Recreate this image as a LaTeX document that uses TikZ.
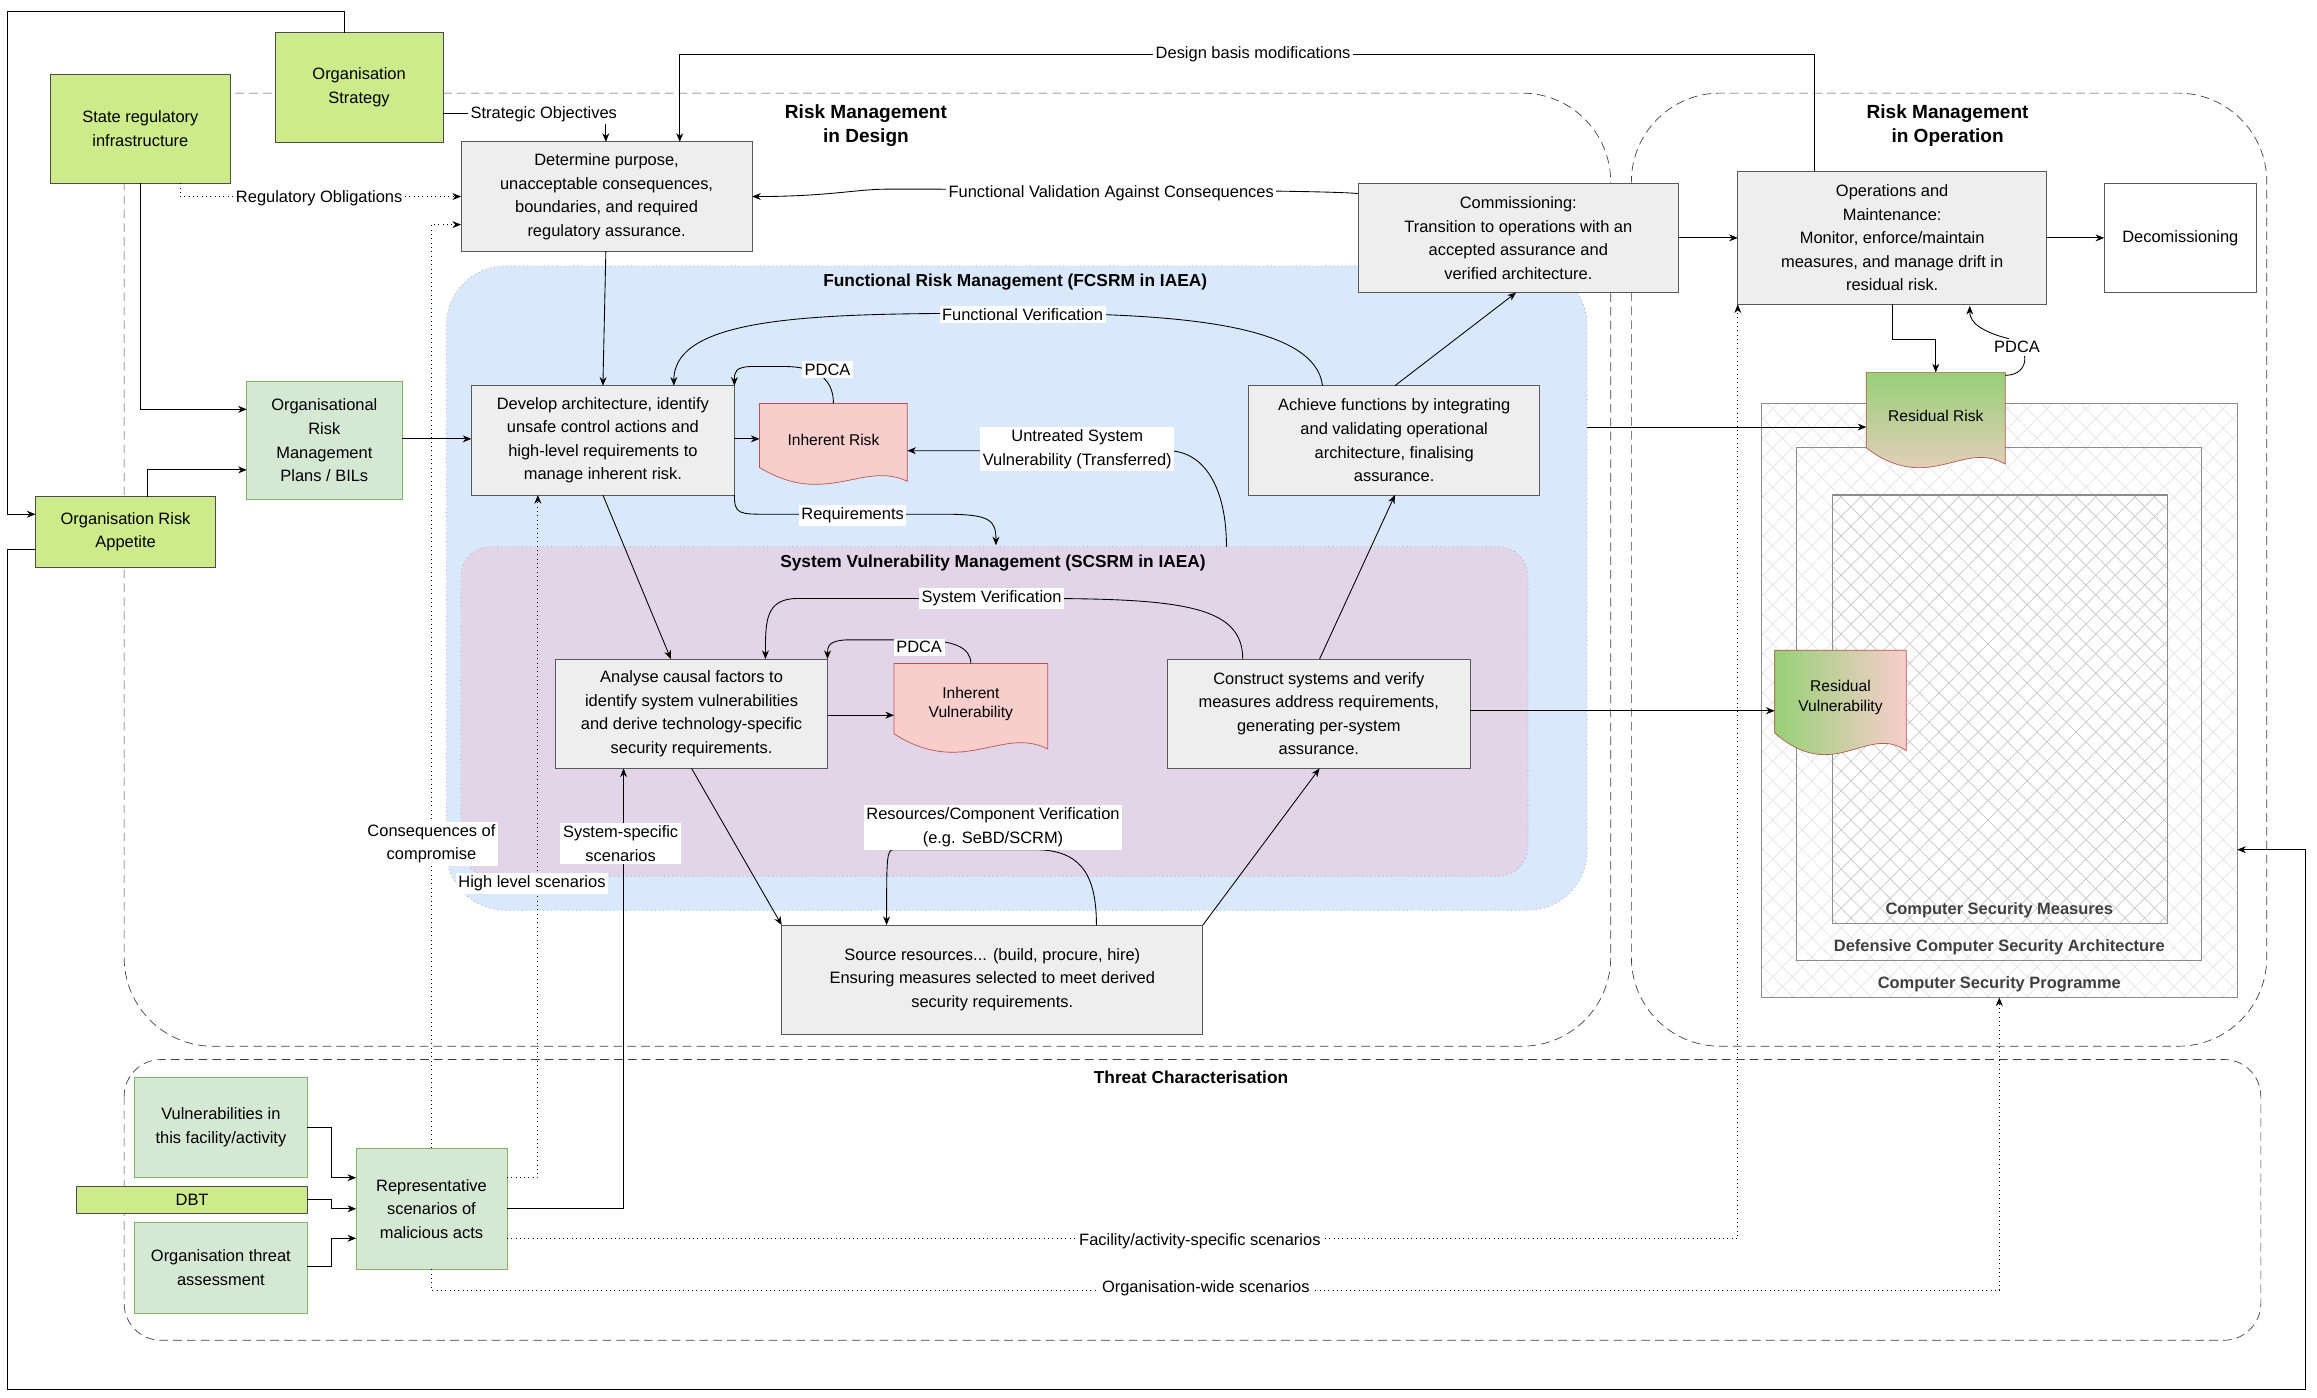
\documentclass[tikz,border=0pt]{standalone}
\usepackage{fontspec}
\setmainfont{Liberation Sans}
\usetikzlibrary{arrows.meta,patterns.meta}
\definecolor{lgreen}{HTML}{CDEB8B}
\definecolor{pgreen}{HTML}{D5E8D4}
\definecolor{pgreenb}{HTML}{82B366}
\definecolor{pblue}{HTML}{DAE8FC}
\definecolor{ppurp}{HTML}{E1D5E7}
\definecolor{pgray}{HTML}{EEEEEE}
\definecolor{ppink}{HTML}{F8CECC}
\definecolor{ppinkb}{HTML}{B85450}
\definecolor{dgreen}{HTML}{97D077}
\newcommand\bx[7]{\node[#6,minimum width={(#4-#2)*0.03cm},minimum height={(#5-#3)*0.03cm}] (#1) at ({(#2+#4)/2},{(#3+#5)/2}) {#7};}
\newcommand\docsh[7]{\path[#6] (#2,#3) -- (#4,#3) -- (#4,{#5-0.15*(#5-#3)}) .. controls ({#4-0.3*(#4-#2)},{#5-0.38*(#5-#3)}) and ({#2+0.45*(#4-#2)},{#5+0.14*(#5-#3)}) .. (#2,{#5-0.3*(#5-#3)}) -- cycle;
\node[align=center,font=\small] (#1) at ({(#2+#4)/2},{#3+0.4*(#5-#3)}) {#7};}
\begin{document}
\begin{tikzpicture}[x=0.03cm,y=-0.03cm,
 every node/.style={font=\fontsize{9.5}{13.6}\selectfont,inner sep=0pt,outer sep=0pt,align=center},
 box/.style={draw=black!65,fill=pgray,line width=0.5pt},
 gbox/.style={draw=black!70,fill=lgreen},
 pbox/.style={draw=pgreenb,fill=pgreen},
 arr/.style={-{Stealth[length=5pt,width=4pt]},line width=0.5pt},
 dot/.style={arr,dotted},
 lbl/.style={fill=white,inner sep=1.5pt},
 cont/.style={draw=black!75,dashed,dash pattern=on 5pt off 3pt},
 ttl/.style={font=\fontsize{11}{13.5}\selectfont\bfseries},
 btl/.style={font=\fontsize{9.5}{12}\selectfont\bfseries,text=black!75}]
\useasboundingbox (0,0) rectangle (1568,946);
\fill[white] (0,0) rectangle (1568,946);
% containers
\draw[cont,rounded corners=1.8cm] (84,63) rectangle (1090,708);
\draw[cont,rounded corners=1.8cm] (1104,63) rectangle (1534,708);
\draw[cont,rounded corners=0.75cm] (84,717) rectangle (1530,907);
\node[ttl] (tdes) at (586,85) {Risk Management\\in Design};
\node[ttl] (tops) at (1318,85) {Risk Management\\in Operation};
\node[ttl,font=\fontsize{10}{12}\selectfont\bfseries] (tthr) at (806,729) {Threat Characterisation};
\draw[fill=pblue,draw=black!40,dotted,rounded corners=1.2cm] (302,180) rectangle (1074,616);
\node[ttl,font=\fontsize{10}{12}\selectfont\bfseries] (tf) at (687,191) {Functional Risk Management (FCSRM in IAEA)};
\draw[fill=ppurp,draw=black!40,dotted,rounded corners=0.6cm] (312,370) rectangle (1034,593);
\node[ttl,font=\fontsize{10}{12}\selectfont\bfseries] (ts) at (672,381) {System Vulnerability Management (SCSRM in IAEA)};
% security programme
\fill[white] (1192,273) rectangle (1514,675);
\fill[pattern={Lines[angle=45,distance=8pt,line width=0.4pt]},pattern color=black!10] (1192,273) rectangle (1514,675);
\fill[pattern={Lines[angle=-45,distance=8pt,line width=0.4pt]},pattern color=black!10] (1192,273) rectangle (1514,675);
\draw[black!45,line width=0.7pt] (1192,273) rectangle (1514,675);
\draw[black!45,line width=0.7pt] (1216,303) rectangle (1490,650);
\fill[white] (1240,335) rectangle (1467,625);
\fill[pattern={Lines[angle=45,distance=8pt,line width=0.4pt]},pattern color=black!22] (1240,335) rectangle (1467,625);
\fill[pattern={Lines[angle=-45,distance=8pt,line width=0.4pt]},pattern color=black!22] (1240,335) rectangle (1467,625);
\draw[black!45,line width=0.7pt] (1240,335) rectangle (1467,625);
\node[btl] (csp) at (1353,666) {Computer Security Programme};
\node[btl] (dcsa) at (1353,641) {Defensive Computer Security Architecture};
\node[btl] (csm) at (1353,616) {Computer Security Measures};
\coordinate (cspr) at (1514,575);
\coordinate (cspb) at (1353,675);
% boxes
\bx{sri}{34}{50}{156}{124}{gbox}{State regulatory\\infrastructure}
\bx{ost}{186}{22}{300}{96}{gbox}{Organisation\\Strategy}
\bx{ora}{24}{336}{146}{384}{gbox}{Organisation Risk\\Appetite}
\bx{orm}{167}{258}{272}{338}{pbox}{Organisational\\Risk\\Management\\Plans / BILs}
\bx{det}{312}{96}{509}{170}{box}{Determine purpose,\\unacceptable consequences,\\boundaries, and required\\regulatory assurance.}
\bx{dev}{319}{261}{497}{335}{box}{Develop architecture, identify\\unsafe control actions and\\high-level requirements to\\manage inherent risk.}
\bx{ach}{845}{261}{1042}{335}{box}{Achieve functions by integrating\\and validating operational\\architecture, finalising\\assurance.}
\bx{com}{919}{124}{1136}{198}{box}{Commissioning:\\Transition to operations with an\\accepted assurance and\\verified architecture.}
\bx{ops}{1176}{116}{1385}{206}{box}{Operations and\\Maintenance:\\Monitor, enforce/maintain\\measures, and manage drift in\\residual risk.}
\bx{dec}{1424}{124}{1527}{198}{draw=black!65,fill=white}{Decomissioning}
\bx{ana}{376}{446}{560}{520}{box}{Analyse causal factors to\\identify system vulnerabilities\\and derive technology-specific\\security requirements.}
\bx{con}{790}{446}{995}{520}{box}{Construct systems and verify\\measures address requirements,\\generating per-system\\assurance.}
\bx{src}{529}{626}{814}{700}{box}{Source resources... (build, procure, hire)\\Ensuring measures selected to meet derived\\security requirements.}
\bx{vul}{91}{729}{208}{797}{pbox}{Vulnerabilities in\\this facility/activity}
\bx{dbt}{52}{803}{208}{821}{gbox}{DBT}
\bx{ota}{91}{827}{208}{889}{pbox}{Organisation threat\\assessment}
\bx{rep}{241}{777}{343}{859}{pbox}{Representative\\scenarios of\\malicious acts}
% document shapes
\docsh{ir}{514}{273}{614}{335}{fill=ppink,draw=ppinkb}{Inherent Risk}
\docsh{iv}{605}{449}{709}{517}{fill=ppink,draw=ppinkb}{Inherent\\Vulnerability}
\docsh{rr}{1263}{252}{1357}{325}{top color=dgreen,bottom color=ppink,draw=ppinkb}{Residual Risk}
\docsh{rv}{1201}{440}{1290}{520}{left color=dgreen,right color=ppink,draw=ppinkb}{Residual\\Vulnerability}
% outer loops
\draw[arr] (233,22) -- (233,8) -- (5,8) -- (5,348) -- (24,348);
\draw[arr] (24,372) -- (5,372) -- (5,940) -- (1560,940) -- (1560,575) -- (cspr);
% connectors
\draw[arr] (300,77) -- (410,77) -- (410,96);
\draw[dot] (122,124) -- (122,133) -- (312,133);
\draw[arr] (95,124) -- (95,277) -- (167,277);
\draw[arr] (100,336) -- (100,318) -- (167,318);
\draw[arr] (272,297) -- (319,297);
\draw[dot] (292,777) -- (292,152) -- (312,152);
\draw[dot] (343,797) -- (364,797) -- (364,335);
\draw[arr] (343,818) -- (422,818) -- (422,520);
\draw[dot] (343,838) -- (1176,838) -- (1176,206);
\draw[dot] (292,859) -- (292,873) -- (1353,873) -- (cspb);
\draw[arr] (208,763) -- (224,763) -- (224,797) -- (241,797);
\draw[arr] (208,812) -- (224,812) -- (224,818) -- (241,818);
\draw[arr] (208,857) -- (224,857) -- (224,838) -- (241,838);
\draw[arr] (1228,116) -- (1228,37) -- (460,37) -- (460,96);
\draw[arr] (919,131) .. controls (890,128) and (620,128) .. (600,128) .. controls (580,128) and (560,133) .. (509,133);
\draw[arr] (410,170) -- (408,261);
\draw[arr] (497,297) -- (514,297);
\draw[arr] (564,273) .. controls (564,258) and (555,248) .. (530,248) -- (510,248) .. controls (497,248) and (497,252) .. (497,261);
\draw[arr] (895,261) .. controls (890,220) and (800,212) .. (690,212) .. controls (560,212) and (456,212) .. (456,261);
\draw[arr] (830,370) .. controls (830,330) and (815,305) .. (790,305) -- (614,305);
\draw[arr] (497,335) .. controls (497,348) and (500,348) .. (520,348) -- (640,348) .. controls (670,348) and (674,352) .. (674,369);
\draw[arr] (408,335) -- (454,446);
\draw[arr] (560,484) -- (605,484);
\draw[arr] (657,449) .. controls (657,438) and (645,433) .. (620,433) -- (575,433) .. controls (560,433) and (560,438) .. (560,446);
\draw[arr] (841,446) .. controls (841,410) and (800,405) .. (700,405) -- (540,405) .. controls (518,405) and (518,420) .. (518,446);
\draw[arr] (468,520) -- (529,626);
\draw[arr] (814,626) -- (893,520);
\draw[arr] (742,626) .. controls (742,590) and (730,575) .. (700,575) -- (605,575) .. controls (600,575) and (600,580) .. (600,626);
\draw[arr] (893,446) -- (944,335);
\draw[arr] (944,261) -- (1026,198);
\draw[arr] (1136,161) -- (1176,161);
\draw[arr] (1385,161) -- (1424,161);
\draw[arr] (1281,206) -- (1281,230) -- (1310,230) -- (1310,252);
\draw[arr] (1357,254) .. controls (1375,254) and (1375,232) .. (1355,228) .. controls (1335,222) and (1333,215) .. (1333,207);
\draw[arr] (1074,289) -- (1263,289);
\draw[arr] (995,481) -- (1201,481);
% labels
\node[lbl] (l1) at (368,77) {Strategic Objectives};
\node[lbl] (l2) at (216,134) {Regulatory Obligations};
\node[lbl] (l3) at (292,571) {Consequences of\\compromise};
\node[lbl] (l4) at (360,598) {High level scenarios};
\node[lbl] (l5) at (420,571) {System-specific\\scenarios};
\node[lbl] (l6) at (812,840) {Facility/activity-specific scenarios};
\node[lbl] (l7) at (816,872) {Organisation-wide scenarios};
\node[lbl] (l8) at (848,37) {Design basis modifications};
\node[lbl] (l9) at (752,131) {Functional Validation Against Consequences};
\node[lbl] (l10) at (560,250) {PDCA};
\node[lbl] (l11) at (692,213) {Functional Verification};
\node[lbl] (l12) at (729,304) {Untreated System\\Vulnerability (Transferred)};
\node[lbl] (l13) at (577,349) {Requirements};
\node[lbl] (l14) at (622,438) {PDCA};
\node[lbl] (l15) at (671,405) {System Verification};
\node[lbl] (l16) at (672,560) {Resources/Component Verification\\(e.g. SeBD/SCRM)};
\node[lbl] (l17) at (1365,235) {PDCA};
\end{tikzpicture}
\end{document}
